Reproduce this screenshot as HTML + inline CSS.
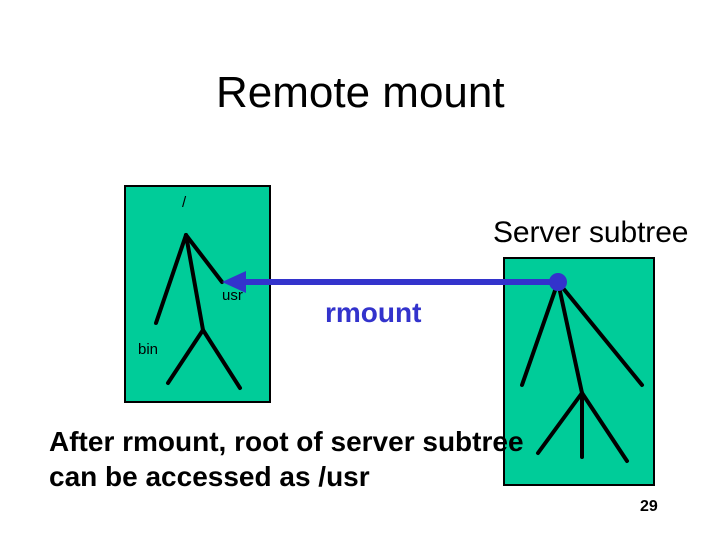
<!DOCTYPE html>
<html><head><style>
body{margin:0;width:720px;height:540px;background:#fff;overflow:hidden;position:relative;font-family:"Liberation Sans",Arial,sans-serif}
.t{position:absolute;white-space:nowrap;color:#000}
</style></head><body>
<svg width="720" height="540" style="position:absolute;left:0;top:0">
<rect x="125" y="186" width="145" height="216" fill="#00cc99" stroke="#000" stroke-width="2"/>
<rect x="504" y="258" width="150" height="227" fill="#00cc99" stroke="#000" stroke-width="2"/>
<g stroke="#000" stroke-width="4" stroke-linecap="round" fill="none">
<line x1="186" y1="235" x2="156" y2="323"/>
<line x1="186" y1="235" x2="222" y2="282"/>
<line x1="186" y1="235" x2="203" y2="330"/>
<line x1="203" y1="330" x2="168" y2="383"/>
<line x1="203" y1="330" x2="240" y2="388"/>
<line x1="558" y1="282" x2="522" y2="385"/>
<line x1="558" y1="282" x2="642" y2="385"/>
<line x1="558" y1="282" x2="582" y2="393"/>
<line x1="582" y1="393" x2="538" y2="453"/>
<line x1="582" y1="393" x2="582" y2="457"/>
<line x1="582" y1="393" x2="627" y2="461"/>
</g>
<line x1="244" y1="282" x2="558" y2="282" stroke="#3333cc" stroke-width="6"/>
<polygon points="222,282 246,271 246,293" fill="#3333cc"/>
<circle cx="558" cy="282" r="9" fill="#3333cc"/>
</svg>
<div class="t" style="left:216px;top:68px;font-size:44px">Remote mount</div>
<div class="t" style="left:182px;top:194px;font-size:15px">/</div>
<div class="t" style="left:493px;top:216px;font-size:30px;letter-spacing:-0.1px">Server subtree</div>
<div class="t" style="left:222px;top:287px;font-size:15px">usr</div>
<div class="t" style="left:325px;top:297px;font-size:28px;font-weight:bold;color:#3333cc">rmount</div>
<div class="t" style="left:138px;top:341px;font-size:15px">bin</div>
<div class="t" style="left:49px;top:424px;font-size:28px;font-weight:bold;line-height:35px">After rmount, root of server subtree<br>can be accessed as /usr</div>
<div class="t" style="left:640px;top:498px;font-size:16px;font-weight:bold">29</div>
</body></html>
